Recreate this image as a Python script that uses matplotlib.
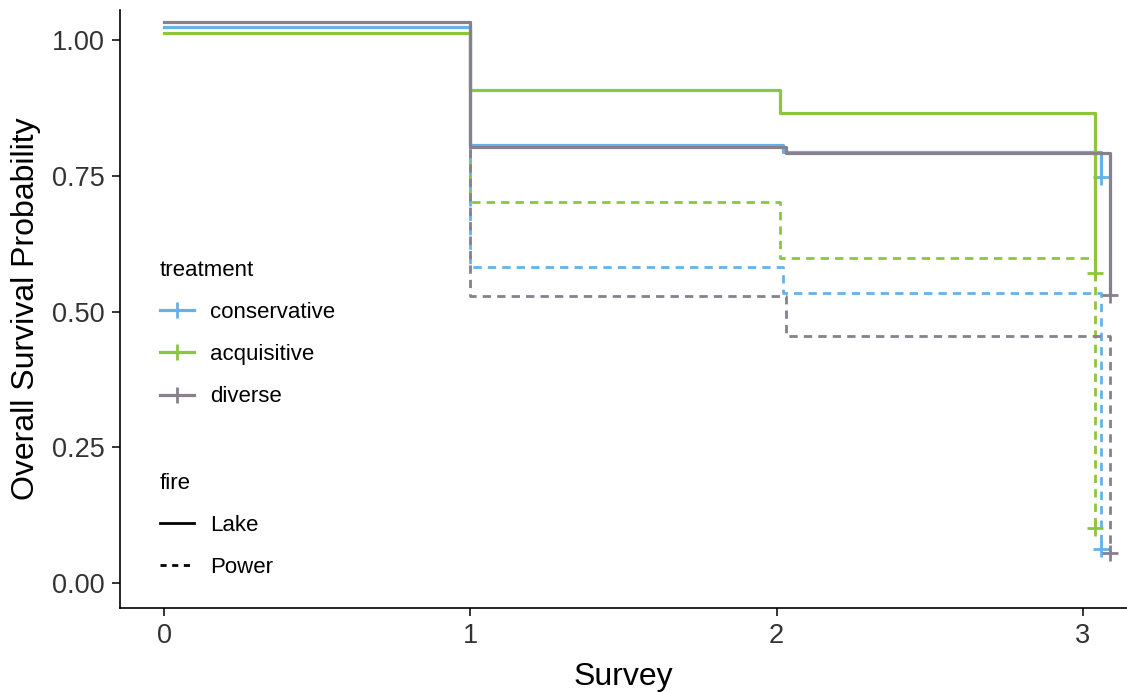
import matplotlib
matplotlib.use("Agg")
import matplotlib.pyplot as plt
from matplotlib.lines import Line2D
import numpy as np

plt.rcParams['font.family'] = ['Liberation Sans', 'DejaVu Sans']

treatments = ["conservative", "acquisitive", "diverse"]
colors = {"conservative": "#63B3EA", "acquisitive": "#8CC63E", "diverse": "#88808D"}

# step times / survival per treatment, site Lake (solid)
lake_t = {
    "conservative": [0, 1.00, 2.02, 3.06],
    "acquisitive":  [0, 1.00, 2.01, 3.04],
    "diverse":      [0, 1.00, 2.03, 3.09],
}
lake_s = {
    "conservative": [1.024, 0.807, 0.794, 0.748],
    "acquisitive":  [1.013, 0.909, 0.866, 0.571],
    "diverse":      [1.034, 0.804, 0.793, 0.531],
}
# site Power (dashed)
power_t = {
    "conservative": [0, 1.00, 2.02, 3.06],
    "acquisitive":  [0, 1.00, 2.01, 3.04],
    "diverse":      [0, 1.00, 2.03, 3.09],
}
power_s = {
    "conservative": [1.024, 0.582, 0.535, 0.063],
    "acquisitive":  [1.013, 0.702, 0.599, 0.101],
    "diverse":      [1.034, 0.529, 0.455, 0.055],
}

fig = plt.figure(figsize=(11.27, 6.92), dpi=100)
ax = fig.add_axes([120/1127, 84/692, 1007/1127, 598/692])

for tr in treatments:
    ax.step(power_t[tr], power_s[tr], where='post', color=colors[tr], lw=2.0,
            dashes=(3.0, 2.2))
    ax.plot(power_t[tr][-1], power_s[tr][-1], marker='+', ms=11, mew=2,
            color=colors[tr], ls='none')
for tr in treatments:
    ax.step(lake_t[tr], lake_s[tr], where='post', color=colors[tr], lw=2.3)
    ax.plot(lake_t[tr][-1], lake_s[tr][-1], marker='+', ms=11, mew=2,
            color=colors[tr], ls='none')

ax.set_xlim(-0.144, 3.144)
ax.set_ylim(-0.046, 1.056)
ax.set_xticks([0, 1, 2, 3])
ax.set_yticks([0, 0.25, 0.5, 0.75, 1.0])
ax.set_yticklabels(["0.00", "0.25", "0.50", "0.75", "1.00"])
ax.spines['top'].set_visible(False)
ax.spines['right'].set_visible(False)
for sp in ['left', 'bottom']:
    ax.spines[sp].set_linewidth(1.2)
ax.tick_params(axis='both', length=6, width=1.1, labelsize=19.5,
               labelcolor='#333333', pad=5)
ax.set_xlabel("Survey", fontsize=23, labelpad=9)
ax.set_ylabel("Overall Survival Probability", fontsize=23, labelpad=8)

h1 = [Line2D([], [], color=colors[tr], lw=2.3, marker='+', ms=11, mew=2)
      for tr in treatments]
leg1 = ax.legend(h1, treatments, title="treatment", loc='upper left',
                 bbox_to_anchor=(160/1127, 1-260/692), bbox_transform=fig.transFigure,
                 frameon=False, fontsize=16, title_fontsize=16, alignment='left',
                 handlelength=1.55, handletextpad=0.7, labelspacing=0.95,
                 borderpad=0, borderaxespad=0)
ax.add_artist(leg1)

h2 = [Line2D([], [], color='black', lw=2.0),
      Line2D([], [], color='black', lw=2.0, dashes=(2.2, 2.0))]
ax.legend(h2, ["Lake", "Power"], title="fire", loc='upper left',
          bbox_to_anchor=(160/1127, 1-473/692), bbox_transform=fig.transFigure,
          frameon=False, fontsize=16, title_fontsize=16, alignment='left',
          handlelength=1.55, handletextpad=0.7, labelspacing=0.95,
          borderpad=0, borderaxespad=0)

fig.savefig("out.png", dpi=100)
